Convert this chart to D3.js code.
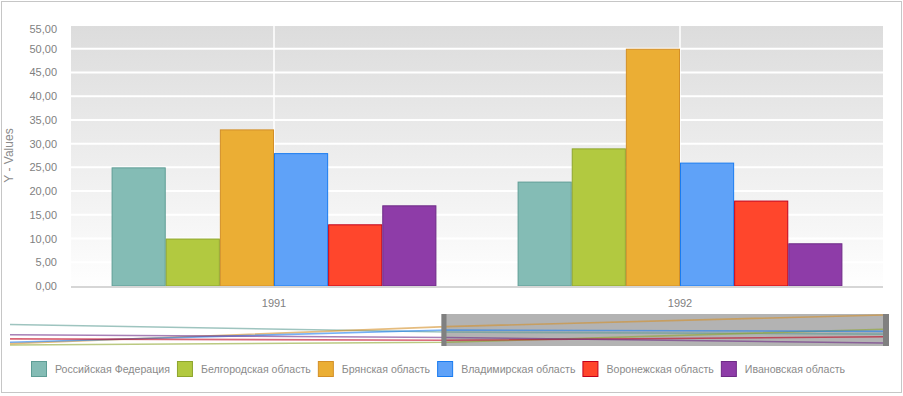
<!DOCTYPE html>
<html>
<head>
<meta charset="utf-8">
<script src="https://cdn.jsdelivr.net/npm/d3@7"></script>
<style>
  html, body { margin: 0; padding: 0; background: #fff; }
  svg { display: block; font-family: "Liberation Sans", Arial, sans-serif; }
</style>
</head>
<body>
<svg id="chart" width="903" height="396"></svg>
<script>
// data
const years = ["1991", "1992"];
const navYears = ["1990", "1991", "1992"];
const seriesNames = ["Российская Федерация", "Белгородская область", "Брянская область",
  "Владимирская область", "Воронежская область", "Ивановская область"];
const values1990 = [36, 6, 8, 10, 15, 21];   // only visible in the navigator
const values1991 = [25, 10, 33, 28, 13, 17];
const values1992 = [22, 29, 50, 26, 18, 9];
const yTicks = [0, 5, 10, 15, 20, 25, 30, 35, 40, 45, 50, 55];

const fills   = ["#84bcb5", "#b2c940", "#ebae34", "#5fa2f8", "#ff462c", "#8e3ca8"];
const strokes = ["#5e9d95", "#8ea52d", "#d38f28", "#1a7cf0", "#c2001c", "#6d2a86"];

const svg = d3.select('#chart');
const plot = {left: 71, right: 883, top: 25, bottom: 286};

// frame
svg.append('rect')
    .attr('x', 1.5).attr('y', 1.5).attr('width', 900).attr('height', 391)
    .attr('fill', '#fff').attr('stroke', '#c6c6c6');

// background gradient
const grad = svg.append('defs').append('linearGradient')
    .attr('id', 'bg').attr('x1', 0).attr('y1', 0).attr('x2', 0).attr('y2', 1);
grad.append('stop').attr('offset', '0%').attr('stop-color', '#dcdcdc');
grad.append('stop').attr('offset', '100%').attr('stop-color', '#fefefe');

svg.append('rect')
    .attr('x', plot.left).attr('y', plot.top)
    .attr('width', plot.right - plot.left).attr('height', plot.bottom - plot.top)
    .attr('fill', 'url(#bg)');

const x0 = d3.scaleBand().domain(years).range([plot.left, plot.right]);
// group takes 80% of each band
const groupW = x0.bandwidth() * 0.8;
const x1 = d3.scaleBand().domain(d3.range(seriesNames.length))
    .range([x0.bandwidth() * 0.1, x0.bandwidth() * 0.1 + groupW]);

const y = d3.scaleLinear().domain([0, 55]).range([plot.bottom, plot.top]);

// grid
svg.append('g').selectAll('line.h')
    .data(yTicks.filter(d => d > 0))
    .enter().append('line')
    .attr('x1', plot.left).attr('x2', plot.right)
    .attr('y1', d => y(d)).attr('y2', d => y(d))
    .attr('stroke', '#fff').attr('stroke-width', 2);

svg.append('g').selectAll('line.v')
    .data(years)
    .enter().append('line')
    .attr('x1', d => x0(d) + x0.bandwidth() / 2).attr('x2', d => x0(d) + x0.bandwidth() / 2)
    .attr('y1', plot.top).attr('y2', plot.bottom)
    .attr('stroke', '#fff').attr('stroke-width', 1.5);

// bars
const rows = [values1991, values1992];
const groups = svg.append('g').selectAll('g')
    .data(years)
    .enter().append('g')
    .attr('transform', d => 'translate(' + x0(d) + ',0)');

groups.selectAll('rect')
    .data((d, i) => rows[i].map((v, k) => ({k: k, v: v})))
    .enter().append('rect')
    .attr('x', d => x1(d.k) + 0.5)
    .attr('y', d => y(d.v) + 0.5)
    .attr('width', x1.bandwidth() - 1)
    .attr('height', d => plot.bottom - y(d.v) - 0.5)
    .attr('fill', d => fills[d.k])
    .attr('stroke', d => strokes[d.k]);

// base line
svg.append('line')
    .attr('x1', plot.left).attr('x2', plot.right)
    .attr('y1', plot.bottom + 1).attr('y2', plot.bottom + 1)
    .attr('stroke', '#d6d6d6').attr('stroke-width', 2);

// y axis labels
const yAxis = d3.axisLeft(y).tickValues(yTicks).tickSize(0).tickPadding(0)
    .tickFormat(d => d3.format('.2f')(d).replace('.', ','));
const yG = svg.append('g').attr('transform', 'translate(57,0)').call(yAxis);
yG.select('.domain').remove();
yG.selectAll('text')
    .attr('fill', '#7f7f7f').style('font-size', '11px')
    .attr('y', d => y(d) < plot.top + 4 ? plot.top + 4 - y(d) : 0);

svg.append('text')
    .attr('transform', 'translate(13,' + (plot.top + plot.bottom) / 2 + ') rotate(-90)')
    .attr('text-anchor', 'middle')
    .attr('fill', '#8a8a8a').style('font-size', '12px')
    .text('Y - Values');

// x axis labels
const xAxis = d3.axisBottom(x0).tickSize(0).tickPadding(0);
const xG = svg.append('g').attr('transform', 'translate(0,' + (plot.bottom + 13) + ')').call(xAxis);
xG.select('.domain').remove();
xG.selectAll('text').attr('fill', '#7f7f7f').style('font-size', '11px');

// navigator
const nav = {left: 10, right: 883, top: 314, bottom: 346};
const navX = d3.scalePoint().domain(navYears).range([nav.left, nav.right]);
const allVals = values1990.concat(values1991, values1992);
const navY = d3.scaleLinear().domain(d3.extent(allVals)).range([nav.bottom - 1, nav.top + 1]);

const selL = navX('1991') - 5, selR = navX('1992') + 6;
svg.append('rect')
    .attr('x', selL).attr('y', nav.top).attr('width', selR - selL).attr('height', nav.bottom - nav.top)
    .attr('fill', '#b3b3b3');

const navRows = [values1990, values1991, values1992];
const line = d3.line().x(d => navX(d.year)).y(d => navY(d.v));
svg.append('g').selectAll('path')
    .data(seriesNames.map((s, k) => navYears.map((yr, j) => ({year: yr, v: navRows[j][k]}))))
    .enter().append('path')
    .attr('d', line)
    .attr('fill', 'none')
    .attr('stroke', (d, k) => strokes[k])
    .attr('stroke-opacity', 0.6)
    .attr('stroke-width', 1.6);

svg.append('rect')
    .attr('x', selL).attr('y', nav.top).attr('width', 5).attr('height', nav.bottom - nav.top)
    .attr('fill', '#808080');
svg.append('rect')
    .attr('x', selR - 6).attr('y', nav.top).attr('width', 6).attr('height', nav.bottom - nav.top)
    .attr('fill', '#808080');

// legend
const legend = svg.append('g').attr('transform', 'translate(31,361)');
let lx = 0;
seriesNames.forEach(function(name, k) {
  const item = legend.append('g').attr('transform', 'translate(' + lx + ',0)');
  item.append('rect')
      .attr('x', 0.5).attr('y', 0.5).attr('width', 15).attr('height', 15)
      .attr('fill', fills[k]).attr('stroke', strokes[k]);
  const t = item.append('text')
      .attr('x', 24).attr('y', 12)
      .attr('fill', '#8a8a8a').style('font-size', '10.6px')
      .text(name);
  lx += 24 + t.node().getComputedTextLength() + 7;
});
</script>
</body>
</html>
